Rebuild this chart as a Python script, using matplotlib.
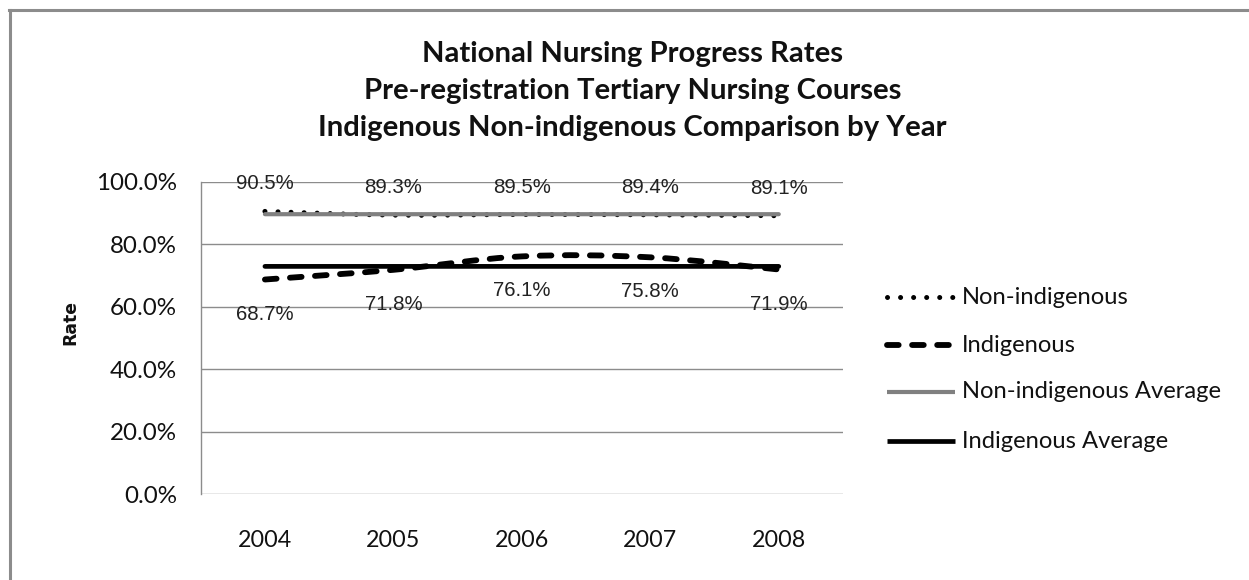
import matplotlib
matplotlib.use("Agg")
import matplotlib.pyplot as plt
from matplotlib.path import Path
from matplotlib.patches import PathPatch
from matplotlib.lines import Line2D
from matplotlib.ticker import FuncFormatter

# ---------------- data ----------------
years = ["2004", "2005", "2006", "2007", "2008"]
non_indigenous = [90.5, 89.3, 89.5, 89.4, 89.1]
indigenous = [68.7, 71.8, 76.1, 75.8, 71.9]
non_indigenous_avg = [89.6, 89.6, 89.6, 89.6, 89.6]
indigenous_avg = [72.9, 72.9, 72.9, 72.9, 72.9]
series_names = ["Non-indigenous", "Indigenous",
                "Non-indigenous Average", "Indigenous Average"]
title_lines = ["National Nursing Progress Rates",
               "Pre-registration Tertiary Nursing Courses",
               "Indigenous Non-indigenous Comparison by Year"]
y_label = "Rate"
y_ticks = [0, 20, 40, 60, 80, 100]

# ---------------- figure ----------------
W, H = 1249, 580
fig = plt.figure(figsize=(W / 100, H / 100), dpi=100)
renderer = fig.canvas.get_renderer()
CAL = ["Lato", "DejaVu Sans"]
TXT = "#111111"


def fx(px):
    return px / W


def fy(py):
    return 1 - py / H


def fit(text, px, family, weight="normal"):
    t = fig.text(0, 0, text, fontsize=20, family=family, weight=weight)
    w = t.get_window_extent(renderer).width
    t.remove()
    return 20 * px / w


# outer border (top and left)
fig.add_artist(Line2D([fx(10), fx(10)], [fy(10), fy(600)], color="#8c8c8c", lw=2.2))
fig.add_artist(Line2D([fx(9), fx(1260)], [fy(10), fy(10)], color="#8c8c8c", lw=2.2))

# title
ts = fit(title_lines[0], 421, CAL, "bold")
for line, base in zip(title_lines, [61.7, 98.5, 136.0]):
    fig.text(fx(632.5), fy(base), line, ha="center", va="baseline",
             fontsize=ts, family=CAL, weight="bold", color=TXT)

# axes
ax_left, ax_right, ax_top, ax_bot = 200.7, 843, 181.7, 494.2
ax = fig.add_axes([fx(ax_left), fy(ax_bot), fx(ax_right - ax_left), (ax_bot - ax_top) / H])
xs = list(range(len(years)))
ax.set_xlim(-0.5, len(years) - 0.5)
ax.set_ylim(0, 100)
ax.set_yticks(y_ticks)
ax.yaxis.set_major_formatter(FuncFormatter(lambda v, p: f"{v:.1f}%"))
ax.set_xticks(xs)
ax.set_xticklabels(years)
for s in ["top", "right", "bottom"]:
    ax.spines[s].set_visible(False)
ax.spines["left"].set_color("#8c8c8c")
ax.spines["left"].set_linewidth(1.0)
ax.grid(axis="y", color="#8c8c8c", lw=1.0)
ax.set_axisbelow(True)
ax.tick_params(axis="both", length=0)
ys_size = fit("100.0%", 81, CAL)
xs_size = fit("2004", 54, CAL)
ax.tick_params(axis="y", pad=17, labelsize=ys_size, labelcolor=TXT)
ax.tick_params(axis="x", pad=26, labelsize=xs_size, labelcolor=TXT)
for lab in ax.get_xticklabels() + ax.get_yticklabels():
    lab.set_family(CAL)

# y label
rs = fit(y_label, 45, ["DejaVu Sans"], "bold")
fig.text(fx(70), fy(323), y_label, rotation=90, ha="center", va="center",
         fontsize=rs, family="DejaVu Sans", weight="bold", color=TXT)


def smooth_path(xv, yv):
    pts = list(zip(xv, yv))
    n = len(pts)
    verts = [pts[0]]
    codes = [Path.MOVETO]
    for i in range(n - 1):
        p0 = pts[i - 1] if i > 0 else pts[i]
        p1 = pts[i]
        p2 = pts[i + 1]
        p3 = pts[i + 2] if i + 2 < n else pts[i + 1]
        c1 = (p1[0] + (p2[0] - p0[0]) / 6, p1[1] + (p2[1] - p0[1]) / 6)
        c2 = (p2[0] - (p3[0] - p1[0]) / 6, p2[1] - (p3[1] - p1[1]) / 6)
        verts += [c1, c2, p2]
        codes += [Path.CURVE4] * 3
    return Path(verts, codes)


styles = [
    dict(color="black", lw=3.6, ls=(0, (0.01, 2.6))),
    dict(color="black", lw=4.2, ls=(0, (2.0, 2.3))),
    dict(color="#808080", lw=3.0, ls="solid"),
    dict(color="black", lw=3.4, ls="solid"),
]
all_series = [non_indigenous, indigenous, non_indigenous_avg, indigenous_avg]
for vals, st in zip(all_series, styles):
    patch = PathPatch(smooth_path(xs, vals), fill=False, edgecolor=st["color"],
                      lw=st["lw"], linestyle=st["ls"], capstyle="round", joinstyle="round")
    ax.add_patch(patch)

# data labels
ls_size = fit("90.5%", 58, ["Liberation Sans"])
for x, v in zip(xs, non_indigenous):
    ax.annotate(f"{v:.1f}%", (x, v), xytext=(0, 22), textcoords="offset pixels",
                ha="center", va="baseline", fontsize=ls_size,
                family="Liberation Sans", color="#222222")
for x, v in zip(xs, indigenous):
    ax.annotate(f"{v:.1f}%", (x, v), xytext=(0, -40), textcoords="offset pixels",
                ha="center", va="baseline", fontsize=ls_size,
                family="Liberation Sans", color="#222222")

# legend (manual)
lg_size = fit("Non-indigenous Average", 260, CAL)
for name, st, ry in zip(series_names, styles, [297, 345, 392, 441]):
    fig.add_artist(Line2D([fx(887), fx(955)], [fy(ry), fy(ry)], color=st["color"],
                          lw=st["lw"], linestyle=st["ls"],
                          dash_capstyle="round", solid_capstyle="butt"))
    fig.text(fx(962), fy(ry), name, ha="left", va="center", fontsize=lg_size,
             family=CAL, color=TXT)

fig.savefig("out.png", dpi=100)
